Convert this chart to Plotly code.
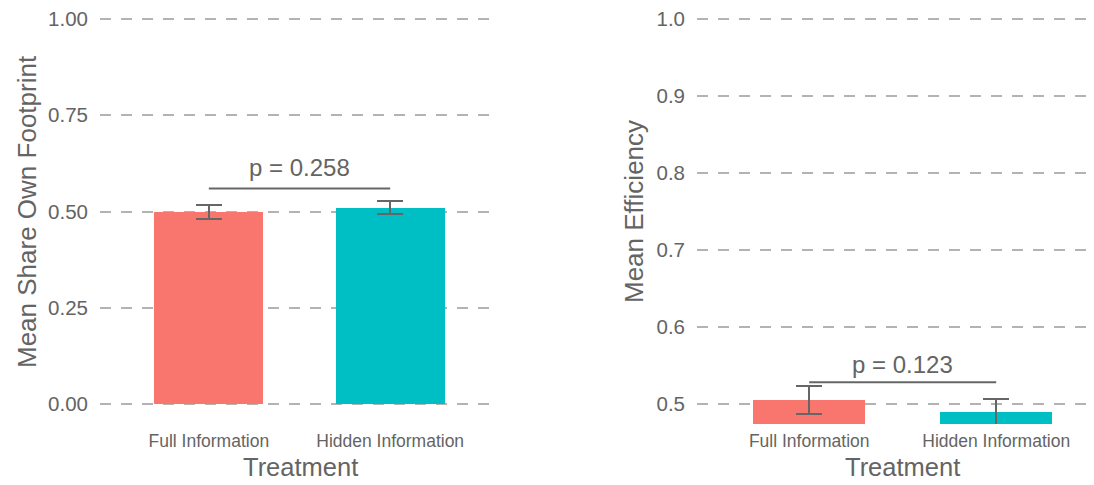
import plotly.graph_objects as go

categories = ["Full Information", "Hidden Information"]
bar_colors = ["#F8766D", "#00BFC4"]

share_mean = [0.499, 0.510]
share_se = [0.019, 0.017]
share_bracket = 0.560
share_p = "p = 0.258"
share_ticks = [0.0, 0.25, 0.5, 0.75, 1.0]
share_ticklabels = ["0.00", "0.25", "0.50", "0.75", "1.00"]

eff_mean = [0.506, 0.490]
eff_se = [0.018, 0.017]
eff_bracket = 0.5286
eff_p = "p = 0.123"
eff_ticks = [0.5, 0.6, 0.7, 0.8, 0.9, 1.0]
eff_ticklabels = ["0.5", "0.6", "0.7", "0.8", "0.9", "1.0"]

FONT = "Liberation Sans, Arial, sans-serif"
TXT = "#646464"
LINE = "#666666"
GRID = "#B3B3B3"

# the page body has an 8px margin; work in page pixels and convert
OFF = 8
W, H = 1094 - OFF, 485 - OFF
B = 61
PH = H - B  # plot height in px


def px_x(page_x):
    return (page_x - OFF) / W


def px_y(page_y):
    return (PH - (page_y - OFF)) / PH


fig = go.Figure()

fig.add_trace(go.Bar(
    x=categories, y=share_mean, marker=dict(color=bar_colors, line=dict(width=0)),
    width=0.6, xaxis="x", yaxis="y", showlegend=False,
    error_y=dict(type="data", array=share_se, color=LINE, thickness=2, width=13),
))
fig.add_trace(go.Bar(
    x=categories, y=eff_mean, marker=dict(color=bar_colors, line=dict(width=0)),
    width=0.6, xaxis="x2", yaxis="y2", showlegend=False,
    error_y=dict(type="data", array=eff_se, color=LINE, thickness=2, width=13),
))

common_y = dict(
    showgrid=True, gridcolor=GRID, gridwidth=2, griddash="10.5px,10.5px",
    zeroline=False, showline=False, ticks="",
    tickfont=dict(family=FONT, size=20.5, color=TXT),
    ticklabelstandoff=11, ticklabeloverflow="allow",
)
common_x = dict(
    type="category", showgrid=False, zeroline=False, showline=False, ticks="",
    tickfont=dict(family=FONT, size=17.5, color=TXT),
    ticklabelstandoff=4,
)

# left panel: 1.00 at page y 19, 0.00 at page y 404 -> 385 px per unit
# right panel: 1.0 at page y 19, 0.5 at page y 404.3 -> 770.6 px per unit
bottom_page = OFF + PH
l_top = 1 + (19 - OFF) / 385
l_bot = -(bottom_page - 404) / 385
r_top = 1 + (19 - OFF) / 770.6
r_bot = 0.5 - (bottom_page - 404.3) / 770.6

fig.update_layout(
    width=W, height=H,
    margin=dict(l=0, r=0, t=0, b=B),
    paper_bgcolor="white", plot_bgcolor="white",
    xaxis=dict(domain=[px_x(100), px_x(499)], range=[-0.6, 1.6], anchor="y", **common_x),
    yaxis=dict(domain=[0, 1], range=[l_bot, l_top], anchor="x",
               tickvals=share_ticks, ticktext=share_ticklabels, **common_y),
    xaxis2=dict(domain=[px_x(697), 1.0], range=[-0.6, -0.6 + 397 / 187], anchor="y2", **common_x),
    yaxis2=dict(domain=[0, 1], range=[r_bot, r_top], anchor="x2",
                tickvals=eff_ticks, ticktext=eff_ticklabels, **common_y),
    bargap=0,
)

# significance brackets
fig.add_shape(type="line", xref="x", yref="y", x0=0, x1=1, y0=share_bracket, y1=share_bracket,
              line=dict(color=LINE, width=2))
fig.add_shape(type="line", xref="x2", yref="y2", x0=0, x1=1, y0=eff_bracket, y1=eff_bracket,
              line=dict(color=LINE, width=2))
fig.add_annotation(xref="x", yref="y", x=0.5, y=share_bracket, text=share_p, showarrow=False,
                   yanchor="middle", yshift=21, font=dict(family=FONT, size=24, color=TXT))
fig.add_annotation(xref="x2", yref="y2", x=0.5, y=eff_bracket, text=eff_p, showarrow=False,
                   yanchor="middle", yshift=18, font=dict(family=FONT, size=24, color=TXT))

# axis titles
fig.add_annotation(xref="paper", yref="paper", x=px_x(27), y=px_y(212),
                   text="Mean Share Own Footprint", textangle=-90, showarrow=False,
                   xanchor="center", yanchor="middle", font=dict(family=FONT, size=26, color=TXT))
fig.add_annotation(xref="paper", yref="paper", x=px_x(634), y=px_y(212),
                   text="Mean Efficiency", textangle=-90, showarrow=False,
                   xanchor="center", yanchor="middle", font=dict(family=FONT, size=26, color=TXT))
for cx in (300, 902):
    fig.add_annotation(xref="paper", yref="paper", x=px_x(cx), y=px_y(467),
                       text="Treatment", showarrow=False, xanchor="center", yanchor="middle",
                       font=dict(family=FONT, size=25.5, color=TXT))

fig.write_html("out.html")
